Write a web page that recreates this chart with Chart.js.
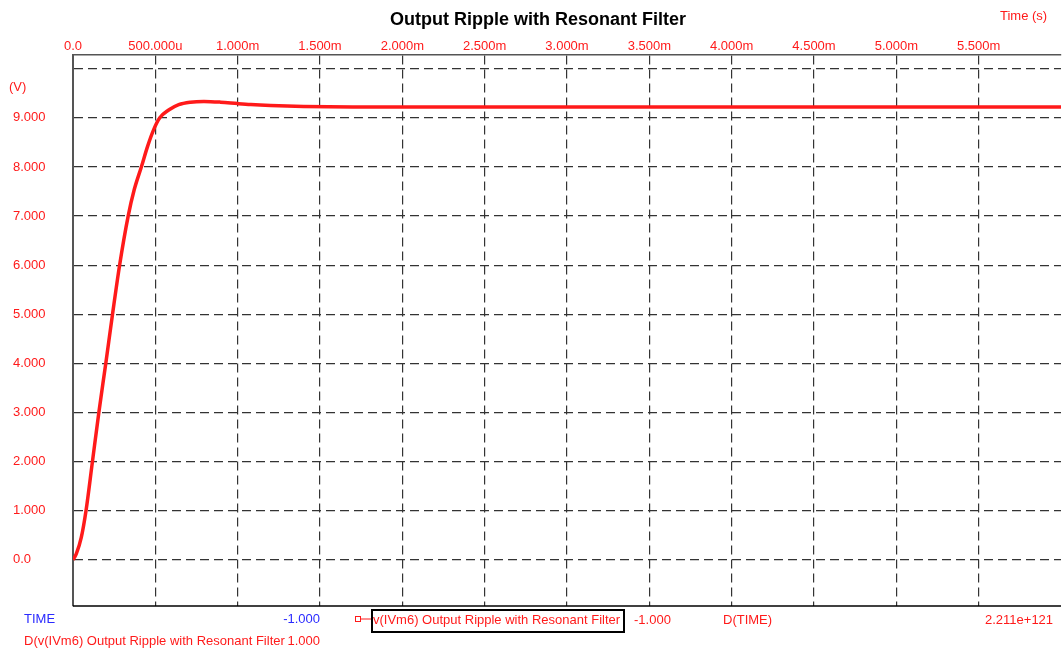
<!DOCTYPE html>
<html>
<head>
<meta charset="utf-8">
<script src="https://cdn.jsdelivr.net/npm/chart.js@4.4.1/dist/chart.umd.min.js"></script>
<style>
  html, body { margin: 0; padding: 0; background: #fff; }
  #wrap { width: 1062px; height: 649px; }
</style>
</head>
<body>
<div id="wrap"><canvas id="ripple"></canvas></div>
<script>
// time in ms, output voltage in V
var timeMs = [0, 0.02, 0.05, 0.079, 0.118, 0.157, 0.199, 0.24, 0.283, 0.335, 0.372, 0.415, 0.453, 0.49, 0.527, 0.581, 0.642, 0.713, 0.795, 0.896, 1.0, 1.08, 1.2, 1.4, 1.7, 2.0, 2.5, 3.0, 3.5, 4.0, 4.5, 5.0, 5.5, 6.0];
var voltage = [0, 0.12, 0.45, 1.0, 2.0, 3.0, 4.0, 5.0, 6.0, 7.0, 7.54, 8.0, 8.42, 8.76, 9.0, 9.16, 9.27, 9.32, 9.335, 9.32, 9.29, 9.27, 9.25, 9.23, 9.22, 9.22, 9.22, 9.22, 9.22, 9.22, 9.22, 9.22, 9.22, 9.22];

var xTicks = [0, 0.5, 1.0, 1.5, 2.0, 2.5, 3.0, 3.5, 4.0, 4.5, 5.0, 5.5, 6.0];
var xTickLabels = ['0.0', '500.000u', '1.000m', '1.500m', '2.000m', '2.500m', '3.000m', '3.500m', '4.000m', '4.500m', '5.000m', '5.500m', ''];
var yTicks = [0, 1, 2, 3, 4, 5, 6, 7, 8, 9, 10];
var yTickLabels = ['0.0', '1.000', '2.000', '3.000', '4.000', '5.000', '6.000', '7.000', '8.000', '9.000', ''];

var RED = '#ff1a1a';
var BLUE = '#2a2aff';
var FONT = '"Liberation Sans", Arial, sans-serif';

var points = timeMs.map(function (t, i) { return { x: t, y: voltage[i] }; });

// extra texts: title, axis units, probe footer
var decor = {
  id: 'decor',
  afterDraw: function (chart) {
    var c = chart.ctx;
    var a = chart.chartArea;
    c.save();
    // bottom border of the plot
    c.strokeStyle = '#000';
    c.lineWidth = 1.5;
    c.beginPath();
    c.moveTo(a.left, a.bottom);
    c.lineTo(a.right, a.bottom);
    c.stroke();

    c.textBaseline = 'middle';
    c.fillStyle = '#000';
    c.font = 'bold 18px ' + FONT;
    c.textAlign = 'center';
    c.fillText('Output Ripple with Resonant Filter', 538, 20);

    c.font = '13px ' + FONT;
    c.fillStyle = RED;
    c.textAlign = 'left';
    c.fillText('Time (s)', 1000, 16);
    c.fillText('(V)', 9, 87);

    // footer
    c.fillStyle = BLUE;
    c.fillText('TIME', 24, 619);
    c.textAlign = 'right';
    c.fillText('-1.000', 320, 619);

    c.fillStyle = RED;
    c.textAlign = 'left';
    c.fillText('D(v(IVm6) Output Ripple with Resonant Filter', 24, 641);
    c.textAlign = 'right';
    c.fillText('1.000', 320, 641);

    // legend marker
    c.strokeStyle = RED;
    c.lineWidth = 1;
    c.strokeRect(355.5, 616.5, 5, 5);
    c.beginPath();
    c.moveTo(360, 619);
    c.lineTo(372, 619);
    c.stroke();
    c.strokeStyle = '#000';
    c.lineWidth = 2;
    c.strokeRect(372, 610, 252, 22);

    c.textAlign = 'left';
    c.fillText('v(IVm6) Output Ripple with Resonant Filter', 373, 620);
    c.fillText('-1.000', 634, 620);
    c.fillText('D(TIME)', 723, 620);
    c.fillText('2.211e+121', 985, 620);
    c.restore();
  }
};

var ctx = document.getElementById('ripple').getContext('2d');
var chart = new Chart(ctx, {
  type: 'line',
  data: {
    datasets: [{
      label: 'v(IVm6) Output Ripple with Resonant Filter',
      data: points,
      borderColor: RED,
      borderWidth: 3.5,
      pointRadius: 0,
      cubicInterpolationMode: 'monotone',
      fill: false
    }]
  },
  options: {
    responsive: true,
    maintainAspectRatio: false,
    animation: false,
    layout: { padding: { left: 13, right: 0, top: 0, bottom: 43 } },
    plugins: {
      legend: { display: false },
      title: { display: false },
      tooltip: { enabled: false }
    },
    scales: {
      x: {
        type: 'linear',
        position: 'top',
        min: 0,
        max: 6.0,
        afterBuildTicks: function (s) { s.ticks = xTicks.map(function (v) { return { value: v }; }); },
        afterFit: function (s) { s.height = 55; },
        ticks: {
          color: RED,
          font: { family: FONT, size: 13 },
          padding: 1,
          maxRotation: 0,
          autoSkip: false,
          callback: function (v, i) { return xTickLabels[i]; }
        },
        grid: {
          color: function (ctx) { return ctx.tick && ctx.tick.value >= 6 ? 'rgba(0,0,0,0)' : '#333'; },
          lineWidth: 1.2,
          drawTicks: false
        },
        border: { color: '#555', width: 1.5, dash: [9, 5] }
      },
      y: {
        type: 'linear',
        min: -0.94,
        max: 10.28,
        afterBuildTicks: function (s) { s.ticks = yTicks.map(function (v) { return { value: v }; }); },
        afterFit: function (s) { s.width = 60; },
        ticks: {
          color: RED,
          font: { family: FONT, size: 13 },
          crossAlign: 'far',
          autoSkip: false,
          callback: function (v, i) { return yTickLabels[i]; }
        },
        grid: { color: '#333', lineWidth: 1.2, drawTicks: false },
        border: { color: '#555', width: 2, dash: [9, 5] }
      }
    }
  },
  plugins: [decor]
});
</script>
</body>
</html>
